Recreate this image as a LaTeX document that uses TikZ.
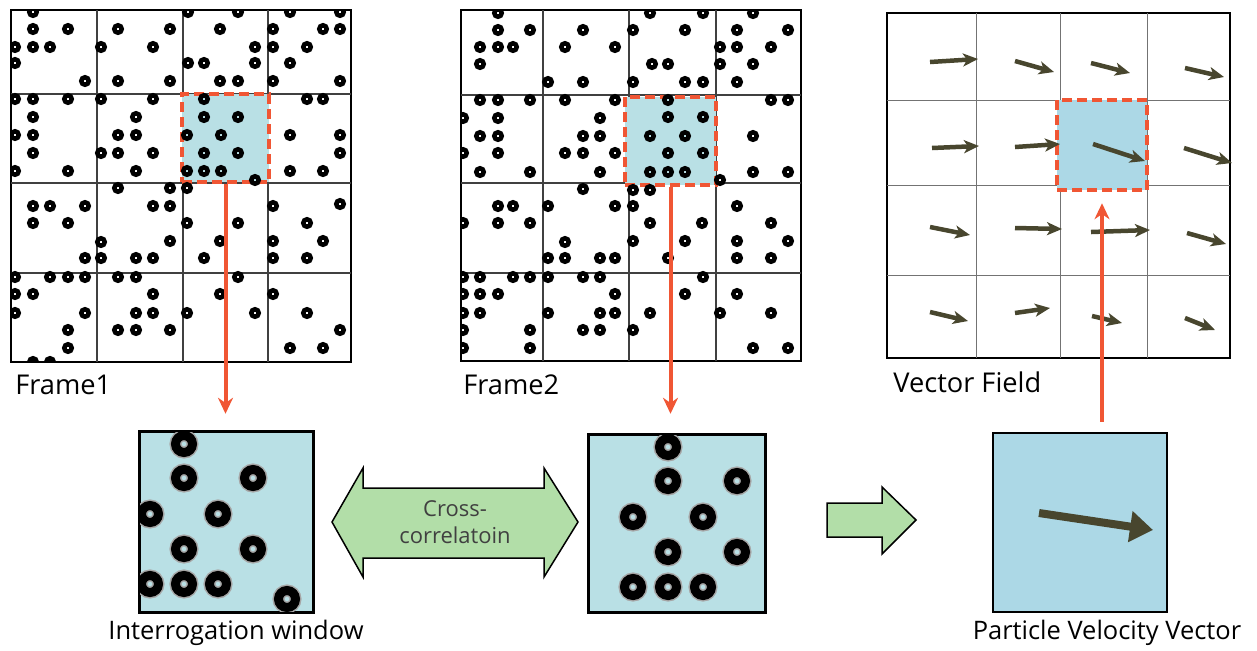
\documentclass[tikz,border=0pt]{standalone}
\usepackage{fontspec}
\setmainfont{Open Sans}
\usepackage{xcolor}
\usepackage{tikz}
\usetikzlibrary{arrows.meta,positioning}
\tikzset{>=stealth}
\definecolor{pivred}{RGB}{240,86,52}
\definecolor{wincyan}{RGB}{185,224,229}
\definecolor{vecblue}{RGB}{172,216,230}
\definecolor{blockgreen}{RGB}{178,222,168}
\definecolor{vecolive}{RGB}{72,70,46}
\tikzset{
  framebox/.style={draw, line width=0.04cm, inner sep=0pt},
  gridline/.style={draw=black!75, line width=0.025cm},
  finegrid/.style={draw=black!55, line width=0.02cm},
  ivwin/.style={draw=pivred, dash pattern=on 0.2cm off 0.1cm, line width=0.09cm, fill=wincyan, inner sep=0pt},
  ibox/.style={draw, line width=0.05cm, fill=wincyan, inner sep=0pt},
  particle/.style={draw=black, line width=0.09cm},
  bigparticle/.style={draw=black, line width=0.18cm},
  bighalo/.style={draw=black!35, line width=0.24cm},
  redarrow/.style={draw=pivred, line width=0.08cm, -{Stealth[length=0.32cm,width=0.3cm]}},
  vec/.style={draw=vecolive, line width=0.09cm, -{Stealth[length=0.3cm,width=0.26cm,inset=0.08cm]}},
  blockarrow/.style={draw, line width=0.03cm, fill=blockgreen, line join=miter},
  toplbl/.style={font=\fontsize{15.5}{18}\selectfont, inner sep=0pt},
  botlbl/.style={font=\fontsize{14.5}{17}\selectfont, inner sep=0pt}
}

\begin{document}
\begin{tikzpicture}[x=0.02cm, y=-0.02cm]
			\useasboundingbox (0,0) rectangle (1257,650);
			
			% Frame 1 with its interrogation grid
			\node[framebox, minimum width=6.8cm, minimum height=7.04cm] (frame1) at (181,186) {};
			\draw[gridline] (97,10) -- (97,362) (183,10) -- (183,362) (268,10) -- (268,362);
			\draw[gridline] (11,94) -- (351,94) (11,183) -- (351,183) (11,273) -- (351,273);
			\node[ivwin, minimum width=1.74cm, minimum height=1.76cm] (win1) at (225.5,138) {};
			\begin{scope}
				\clip (frame1.south west) rectangle (frame1.north east);
				\foreach \x/\y in {33/12,33/29,68/29,15/47,33/47,50/47,15/63,85/81,
					118/29,170/29,101/47,153/47,118/81,170/81,
					188/12,238/12,220/29,255/47,188/63,204/63,255/63,220/81,238/81,
					290/12,340/12,273/29,323/29,340/29,273/47,307/47,290/63,340/81,273/81,
					15/99,33/99,68/99,33/117,15/135,33/135,33/153,15/171,68/171,
					101/99,153/99,136/117,118/135,136/135,101/153,118/153,153/153,136/171,
					204/99,204/117,238/117,187/135,221/135,204/153,238/153,187/171,204/171,221/171,255/180,
					307/99,323/99,290/135,340/135,340/153,290/171,323/171,
					33/206,50/206,85/206,33/223,68/223,85/258,
					118/188,170/188,153/206,170/206,101/242,170/241,101/258,136/258,153/258,
					187/188,187/223,238/223,220/241,204/258,
					273/206,340/204,307/223,273/241,323/241,273/258,307/258,
					15/277,50/277,68/277,85/277,15/294,33/294,15/313,85/313,68/330,68/348,
					118/277,136/277,153/294,136/313,153/313,118/330,136/330,170/330,
					238/277,220/294,187/313,255/313,
					273/294,307/313,340/330,290/348,323/348,33/362,50/362}
					\draw[particle] (\x,\y) circle (0.075cm);
			\end{scope}
			\node[toplbl, anchor=west] (lab1) at (15,385) {Frame1};
			
			% Frame 2
			\node[framebox, minimum width=6.8cm, minimum height=7.02cm] (frame2) at (631,185.5) {};
			\draw[gridline] (543,10) -- (543,361) (629,10) -- (629,361) (716,10) -- (716,361);
			\draw[gridline] (461,95) -- (801,95) (461,183) -- (801,183) (461,273) -- (801,273);
			\node[ivwin, minimum width=1.82cm, minimum height=1.76cm] (win2) at (670.5,141) {};
			\begin{scope}
				\clip (frame2.south west) rectangle (frame2.north east);
				\foreach \x/\y in {498/13,498/30,530/30,480/47,498/47,513/47,480/64,
					583/30,565/47,615/47,548/82,583/82,
					650/13,703/13,633/30,685/30,652/64,668/64,633/82,685/82,703/82,
					753/13,737/30,788/30,720/47,737/47,771/47,720/64,753/64,737/82,
					480/100,498/100,530/100,463/118,498/118,480/136,498/136,463/153,498/153,480/172,530/172,
					565/100,615/100,600/118,583/136,600/136,565/153,583/153,615/153,600/172,
					668/100,668/117,703/117,650/136,685/136,668/153,703/153,650/172,668/172,685/172,720/180,
					771/100,788/100,753/136,753/172,788/172,
					498/206,513/206,463/223,498/223,530/223,
					583/189,548/206,615/206,565/242,548/258,565/258,600/258,615/258,
					633/190,650/190,633/206,650/223,702/223,633/241,685/241,668/258,
					737/206,771/223,737/241,788/241,737/258,771/258,
					463/277,480/277,513/277,530/277,463/294,480/294,498/294,463/313,480/313,463/330,530/330,463/348,530/348,
					548/277,583/277,600/277,615/294,548/313,600/313,615/313,583/330,600/330,
					703/277,685/294,650/313,633/330,
					737/294,720/313,771/313,753/348,788/348}
					\draw[particle] (\x,\y) circle (0.075cm);
			\end{scope}
			\node[toplbl, anchor=west] (lab2) at (463,385) {Frame2};
			
			% Vector field
			\node[framebox, minimum width=6.86cm, minimum height=6.9cm] (field) at (1058.5,185.5) {};
			\draw[finegrid] (976,13) -- (976,358) (1060,13) -- (1060,358) (1147,13) -- (1147,358);
			\draw[finegrid] (887,100) -- (1230,100) (887,185) -- (1230,185) (887,275) -- (1230,275);
			\node[ivwin, fill=vecblue, minimum width=1.8cm, minimum height=1.8cm] (win3) at (1102,145) {};
			\foreach \xa/\ya/\xb/\yb in {930/62/978/59, 1015/61/1054/72, 1091/63/1130/73, 1185/68/1224/77,
				932/148/979/146, 1015/147/1060/144, 1093/144/1145/161, 1184/148/1232/163,
				930/227/970/235, 1015/228/1062/229, 1091/232/1150/230, 1187/233/1226/244,
				930/312/968/321, 1015/313/1050/308, 1092/316/1122/323, 1185/318/1215/330}
				\draw[vec] (\xa,\ya) -- (\xb,\yb);
			\node[toplbl, anchor=west] (lab3) at (893,382) {Vector Field};
			
			% Interrogation windows
			\node[ibox, minimum width=3.46cm, minimum height=3.6cm] (iw1) at (226.5,522) {};
			\begin{scope}
				\clip (iw1.south west) rectangle (iw1.north east);
				\foreach \x/\y in {184/444,184/478,253/478,150/514,218/514,184/549,253/549,150/584,184/584,218/584,287/599} {
					\draw[bighalo] (\x,\y) circle (0.17cm);
					\draw[bigparticle] (\x,\y) circle (0.17cm);
				}
			\end{scope}
			\draw[line width=0.05cm] (iw1.south west) rectangle (iw1.north east);
			\node[botlbl] (lab4) at (236,633) {Interrogation window};
			
			\node[ibox, minimum width=3.52cm, minimum height=3.54cm] (iw2) at (677,523.5) {};
			\begin{scope}
				\clip (iw2.south west) rectangle (iw2.north east);
				\foreach \x/\y in {668/447,668/481,737/481,633/517,703/517,668/552,737/552,633/587,668/587,703/587} {
					\draw[bighalo] (\x,\y) circle (0.17cm);
					\draw[bigparticle] (\x,\y) circle (0.17cm);
				}
			\end{scope}
			\draw[line width=0.05cm] (iw2.south west) rectangle (iw2.north east);
			
			% Result window
			\node[ibox, fill=vecblue, minimum width=3.48cm, minimum height=3.58cm] (pvv) at (1080,522.5) {};
			\draw[draw=vecolive, line width=0.16cm, -{Triangle[length=0.46cm,width=0.6cm]}] (1039,513) -- (1153,530);
			\node[botlbl] (lab5) at (1107,633) {Particle Velocity Vector};
			
			% Block arrows
			\draw[blockarrow] (332,522) -- (363,468) -- (363,488) -- (544,488) -- (544,468) -- (578,522)
				-- (544,577) -- (544,558) -- (363,558) -- (363,577) -- cycle;
			\node[align=center, text=black!75, font=\fontsize{12.5}{15}\selectfont] (xcorr) at (455,522) {Cross-\\correlatoin};
			\draw[blockarrow] (827,503) -- (882,503) -- (882,487) -- (916,520) -- (882,554) -- (882,537) -- (827,537) -- cycle;
			
			% Red connectors
			\draw[redarrow, shorten >=0.34cm] (win1.south) -- (win1.south |- iw1.north);
			\draw[redarrow, shorten >=0.4cm] (win2.south) -- (win2.south |- iw2.north);
			\draw[redarrow, shorten <=0.2cm, shorten >=0.22cm] (win3.south |- pvv.north) -- (win3.south);
		\end{tikzpicture}
\end{document}
